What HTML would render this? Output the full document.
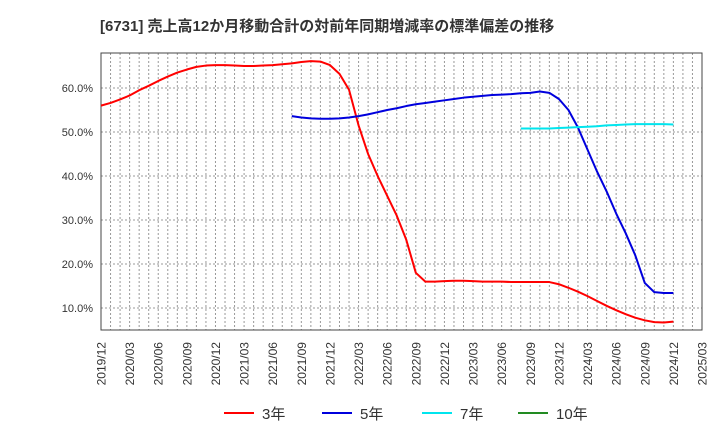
<!DOCTYPE html>
<html><head><meta charset="utf-8"><style>
body{margin:0;background:#fff;}
svg{font-family:"Liberation Sans","Noto Sans CJK JP",sans-serif;}
</style></head><body>
<svg id="c" width="720" height="440" viewBox="0 0 720 440">
<text x="100" y="31" font-size="15" font-weight="bold" fill="#333">[6731]  売上高12か月移動合計の対前年同期増減率の標準偏差の推移</text>
</svg>
<script>
const xTicks=["2019/12","2020/03","2020/06","2020/09","2020/12","2021/03","2021/06","2021/09","2021/12","2022/03","2022/06","2022/09","2022/12","2023/03","2023/06","2023/09","2023/12","2024/03","2024/06","2024/09","2024/12","2025/03"];
const yTicks=[10,20,30,40,50,60];
const s3Start=0;
const s3=[56.0,56.6,57.4,58.3,59.5,60.5,61.6,62.6,63.5,64.2,64.8,65.1,65.2,65.2,65.1,65.0,65.0,65.1,65.2,65.4,65.6,65.9,66.1,66.0,65.2,63.2,59.6,51.5,45.0,40.0,35.5,31.0,25.5,18.0,16.0,16.0,16.1,16.2,16.2,16.1,16.0,16.0,16.0,15.9,15.9,15.9,15.9,15.9,15.4,14.6,13.7,12.7,11.6,10.5,9.5,8.6,7.8,7.2,6.8,6.7,6.9];
const s5Start=20;
const s5=[53.6,53.3,53.1,53.0,53.0,53.1,53.3,53.6,54.0,54.5,55.0,55.4,55.9,56.3,56.6,56.9,57.2,57.5,57.8,58.0,58.2,58.4,58.5,58.6,58.8,58.9,59.2,58.9,57.5,55.0,51.0,46.0,41.0,36.5,31.5,27.0,22.0,15.7,13.6,13.4,13.4];
const s7Start=44;
const s7=[50.8,50.8,50.8,50.8,50.9,51.0,51.1,51.2,51.3,51.5,51.6,51.7,51.8,51.8,51.8,51.8,51.7];
const L=101,R=702,T=53,B=330,MONTHS=63;
const x=m=>L+(R-L)*m/MONTHS;
const y=v=>352-v*4.4;
const svg=document.getElementById('c');
const NS='http://www.w3.org/2000/svg';
function mk(t,a){const e=document.createElementNS(NS,t);for(const k in a)e.setAttribute(k,a[k]);svg.appendChild(e);return e;}
for(let m=1;m<MONTHS;m++){const g=mk('line',{x1:x(m),x2:x(m),y1:T,y2:B,stroke:'#999','stroke-dasharray':'2,2','stroke-width':1});

}
yTicks.forEach(v=>{const g=mk('line',{x1:L,x2:R,y1:y(v),y2:y(v),stroke:'#999','stroke-dasharray':'2,2','stroke-width':1});


const t=mk('text',{x:93,y:y(v)+4,'font-size':11,'text-anchor':'end',fill:'#333'});t.textContent=v.toFixed(1)+'%';

});
xTicks.forEach((s,i)=>{const xx=x(i*3);const t=mk('text',{x:0,y:0,'font-size':12,'text-anchor':'end',fill:'#333',transform:`translate(${xx+4.5},${342}) rotate(-90)`});t.textContent=s;

});
const fr=mk('rect',{x:L,y:T,width:R-L,height:B-T,fill:'none',stroke:'#444','stroke-width':1});


function series(arr,st,col,name){const p=mk('polyline',{points:arr.map((v,i)=>x(st+i)+','+y(v)).join(' '),fill:'none',stroke:col,'stroke-width':2,'stroke-linejoin':'round'});

}
series(s3,s3Start,'#ff0000','series-3y');
series(s5,s5Start,'#0000dd','series-5y');
series(s7,s7Start,'#00e5ee','series-7y');
[["3年",'#ff0000',224],["5年",'#0000dd',322],["7年",'#00e5ee',422],["10年",'#228b22',518]].forEach(([lab,col,lx])=>{
const l=mk('line',{x1:lx,x2:lx+30,y1:413,y2:413,stroke:col,'stroke-width':2});


const t=mk('text',{x:lx+38,y:419,'font-size':15,fill:'#333'});t.textContent=lab;

});
</script>
</body></html>
